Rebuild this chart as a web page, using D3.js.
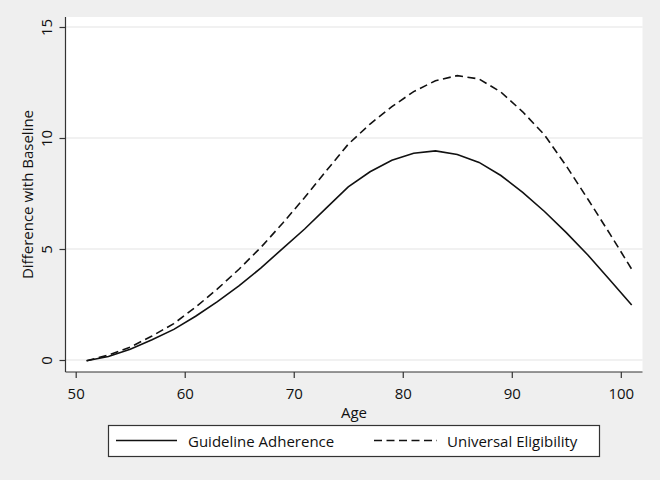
<!DOCTYPE html>
<html>
<head>
<meta charset="utf-8">
<script src="https://cdn.jsdelivr.net/npm/d3@7"></script>
<style>
  body { margin: 0; background: #efefef; }
  svg { display: block; font-family: "Open Sans", sans-serif; }
</style>
</head>
<body>
<svg id="chart" width="660" height="480"></svg>
<script>
var ages = d3.range(51, 102, 2);
var guideline = [-0.03, 0.16, 0.48, 0.91, 1.38, 1.97, 2.63, 3.35, 4.15, 5.03, 5.9, 6.85, 7.8,
                 8.48, 9.0, 9.31, 9.42, 9.26, 8.9, 8.31, 7.55, 6.69, 5.74, 4.72, 3.6, 2.48];
var universal = [-0.03, 0.22, 0.58, 1.08, 1.64, 2.38, 3.2, 4.1, 5.08, 6.17, 7.32, 8.53, 9.72,
                 10.63, 11.41, 12.09, 12.58, 12.81, 12.66, 12.07, 11.18, 10.14, 8.74, 7.23, 5.68, 4.09];
var xTicks = [50, 60, 70, 80, 90, 100];
var yTicks = [0, 5, 10, 15];
var seriesNames = ["Guideline Adherence", "Universal Eligibility"];

var svg = d3.select("#chart"),
    plot = { left: 65.5, right: 642.5, top: 17, bottom: 372 },
    FS = 15;

var xScale = d3.scaleLinear().domain([50, 100]).range([75.7, 620.8]);
var yScale = d3.scaleLinear().domain([0, 15]).range([360, 27]);

svg.append("rect")
  .attr("width", 660).attr("height", 480).attr("fill", "#efefef");

// plot region
svg.append("rect")
  .attr("x", plot.left).attr("y", plot.top)
  .attr("width", plot.right - plot.left).attr("height", plot.bottom - plot.top)
  .attr("fill", "#fff");

// gridlines
svg.append("g").selectAll("line")
  .data(yTicks).enter().append("line")
  .attr("x1", plot.left).attr("x2", plot.right)
  .attr("y1", function(d) { return yScale(d); })
  .attr("y2", function(d) { return yScale(d); })
  .attr("stroke", "#e4e4e4").attr("stroke-width", 1.2);

// y axis
var yAxis = d3.axisLeft(yScale).tickValues(yTicks).tickSize(6).tickSizeOuter(0);
var gy = svg.append("g")
  .attr("transform", "translate(" + plot.left + ",0)")
  .call(yAxis);
gy.select(".domain").attr("d", "M0," + plot.top + "V" + plot.bottom);
gy.selectAll("text")
  .attr("transform", "translate(-14,0) rotate(-90)")
  .attr("x", 0).attr("y", 0).attr("dy", 0)
  .attr("text-anchor", "middle");

// x axis
var xAxis = d3.axisBottom(xScale).tickValues(xTicks).tickSize(6).tickSizeOuter(0);
var gx = svg.append("g")
  .attr("transform", "translate(0," + plot.bottom + ")")
  .call(xAxis);
gx.select(".domain").attr("d", "M" + plot.left + ",0H" + plot.right);
gx.selectAll("text").attr("y", 27).attr("dy", 0);

svg.selectAll(".tick text").attr("font-size", FS).attr("font-family", "Open Sans, sans-serif").attr("fill", "#111");
svg.selectAll(".tick line, .domain").attr("stroke", "#333").attr("stroke-width", 1.2);

// titles
svg.append("text")
  .attr("x", (plot.left + plot.right) / 2).attr("y", 418)
  .attr("text-anchor", "middle").attr("font-size", FS).attr("fill", "#111")
  .text("Age");
svg.append("text")
  .attr("transform", "translate(33," + ((plot.top + plot.bottom) / 2) + ") rotate(-90)")
  .attr("text-anchor", "middle").attr("font-size", FS).attr("fill", "#111")
  .text("Difference with Baseline");

// lines
var lineGen = d3.line()
  .x(function(d) { return xScale(d[0]); })
  .y(function(d) { return yScale(d[1]); });

svg.append("path")
  .attr("d", lineGen(d3.zip(ages, guideline)))
  .attr("fill", "none").attr("stroke", "#111").attr("stroke-width", 1.6);

svg.append("path")
  .attr("d", lineGen(d3.zip(ages, universal)))
  .attr("fill", "none").attr("stroke", "#111").attr("stroke-width", 1.6)
  .attr("stroke-dasharray", "8,4.5");

// legend
var legend = svg.append("g");
legend.append("rect")
  .attr("x", 108.5).attr("y", 425.5).attr("width", 491).attr("height", 31)
  .attr("fill", "#fff").attr("stroke", "#333").attr("stroke-width", 1.2);
var items = [
  { name: seriesNames[0], x1: 116, x2: 177, tx: 188, dash: null },
  { name: seriesNames[1], x1: 374, x2: 437, tx: 447, dash: "8,4.5" }
];
items.forEach(function(it) {
  legend.append("line")
    .attr("x1", it.x1).attr("x2", it.x2).attr("y1", 440.5).attr("y2", 440.5)
    .attr("stroke", "#111").attr("stroke-width", 1.6)
    .attr("stroke-dasharray", it.dash);
  legend.append("text")
    .attr("x", it.tx).attr("y", 446.5).attr("font-size", FS).attr("fill", "#111")
    .text(it.name);
});
</script>
</body>
</html>
